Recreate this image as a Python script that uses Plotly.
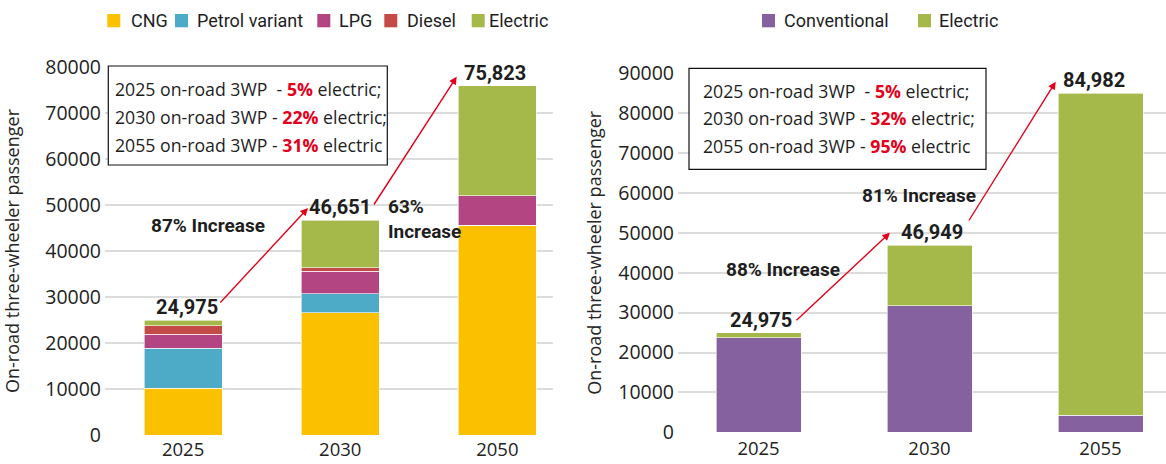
import plotly.graph_objects as go

W, H = 1166, 464

# ---- data: fuel mix scenario (left) ----
years_a = ["2025", "2030", "2050"]
cng = [10200, 26600, 45600]
petrol = [8700, 4100, 0]
lpg = [3000, 4900, 6400]
diesel = [1826, 788, 0]
electric_a = [1249, 10263, 23823]
totals_a = [24975, 46651, 75823]

# ---- data: conventional vs electric scenario (right) ----
years_b = ["2025", "2030", "2055"]
conventional = [23726, 31700, 4249]
electric_b = [1249, 15249, 80733]
totals_b = [24975, 46949, 84982]

growth_a = ["87% Increase", "63%<br>Increase"]
growth_b = ["88% Increase", "81% Increase"]
share_a = ["5%", "22%", "31%"]
share_b = ["5%", "32%", "95%"]

COLORS = {
    "CNG": "#fbc000",
    "Petrol variant": "#4eabc8",
    "LPG": "#b24582",
    "Diesel": "#c44a47",
    "Electric": "#a5b94b",
    "Conventional": "#8561a0",
}
RED = "#e3001b"
TXT = "#1e1e1e"
TICK_FONT = dict(family="Open Sans, DejaVu Sans, sans-serif", size=19.5, color="#222222")
XTICK_FONT = dict(TICK_FONT, size=18.5)
BOLD_FONT = dict(family="Roboto, Liberation Sans, sans-serif", size=20, color=TXT)
LEG_FONT = dict(family="Roboto, sans-serif", size=18, color=TXT)
BOX_FONT = dict(family="Open Sans, sans-serif", size=17.7, color=TXT)


def px(x):
    return x / W


def py(y):
    return 1 - y / H


fig = go.Figure()

for name, vals in [("CNG", cng), ("Petrol variant", petrol), ("LPG", lpg),
                   ("Diesel", diesel), ("Electric", electric_a)]:
    fig.add_trace(go.Bar(
        x=years_a, y=vals, name=name, marker_color=COLORS[name],
        marker_line=dict(color="white", width=0.6), width=0.497,
        xaxis="x", yaxis="y", showlegend=False,
    ))

for name, vals in [("Conventional", conventional), ("Electric", electric_b)]:
    fig.add_trace(go.Bar(
        x=years_b, y=vals, name=name, marker_color=COLORS[name],
        marker_line=dict(color="white", width=0.6), width=0.497,
        xaxis="x2", yaxis="y2", showlegend=False,
    ))

annotations = []
shapes = []

# legend keys: (series, square left, text left) in pixels
legend_keys = [
    ("CNG", 107.3, 129), ("Petrol variant", 175, 195), ("LPG", 317.3, 337),
    ("Diesel", 384.3, 405), ("Electric", 471.7, 487),
    ("Conventional", 762, 782), ("Electric", 918, 937),
]
for name, sq, tx in legend_keys:
    shapes.append(dict(type="rect", xref="paper", yref="paper",
                       x0=px(sq), x1=px(sq + 13), y0=py(27.3), y1=py(14),
                       line=dict(width=0), fillcolor=COLORS[name]))
    annotations.append(dict(x=px(tx), y=py(20.5), xref="paper", yref="paper", text=name,
                            showarrow=False, xanchor="left", yanchor="middle", font=LEG_FONT))

# totals above the stacked bars
for xa, ya, tots, xshift in [("x", "y", totals_a, [4, 0, -2]),
                             ("x2", "y2", totals_b, [2, 2, -7])]:
    for i, (t, xs) in enumerate(zip(tots, xshift)):
        annotations.append(dict(
            x=i, y=t, xref=xa, yref=ya, text=f"<b>{t:,}</b>", showarrow=False,
            xanchor="center", yanchor="bottom", xshift=xs, yshift=-1, font=BOLD_FONT,
        ))

# growth labels
GROW_FONT = dict(BOLD_FONT, size=19)
annotations += [
    dict(x=px(208), y=py(226), xref="paper", yref="paper", text=f"<b>{growth_a[0]}</b>",
         showarrow=False, xanchor="center", font=GROW_FONT),
    dict(x=px(386), y=py(219), xref="paper", yref="paper", text=f"<b>{growth_a[1]}</b>",
         showarrow=False, xanchor="left", align="left", font=GROW_FONT),
    dict(x=px(782.5), y=py(269), xref="paper", yref="paper", text=f"<b>{growth_b[0]}</b>",
         showarrow=False, xanchor="center", font=GROW_FONT),
    dict(x=px(919.5), y=py(195), xref="paper", yref="paper", text=f"<b>{growth_b[1]}</b>",
         showarrow=False, xanchor="center", font=GROW_FONT),
]

# growth arrows (tip, tail) in pixels
for (tx, ty), (sx, sy) in [((308, 208), (219, 304)), ((456.7, 76.7), (373, 206)),
                           ((890, 232.7), (795, 321.7)), ((1055.7, 81.7), (968, 222))]:
    annotations.append(dict(
        x=px(tx), y=py(ty), xref="paper", yref="paper", text="", showarrow=True,
        ax=sx - tx, ay=sy - ty, arrowhead=2, arrowsize=1.1, arrowwidth=1.4,
        arrowcolor=RED, standoff=0, startstandoff=0,
    ))

# electric share boxes
box_years = ["2025", "2030", "2055"]
for (x0, y0, x1, y1), shares, x_text, y_lines in [
        ((108.3, 66, 387.3, 165), share_a, 113, [89.3, 117.3, 145.3]),
        ((689, 68.3, 986, 169.3), share_b, 701, [90.7, 118.3, 146])]:
    shapes.append(dict(type="rect", xref="paper", yref="paper",
                       x0=px(x0), x1=px(x1), y0=py(y1), y1=py(y0),
                       line=dict(color="#111", width=1.2), fillcolor="white", layer="above"))
    for i, (yr, s, yl) in enumerate(zip(box_years, shares, y_lines)):
        gap = "\u00a0 - " if i == 0 else " - "
        tail = " electric;" if i < 2 else " electric"
        annotations.append(dict(
            x=px(x_text), y=py(yl), xref="paper", yref="paper", showarrow=False,
            xanchor="left", yanchor="middle", font=BOX_FONT,
            text=f"{yr} on-road 3WP{gap}<b><span style='color:{RED}'>{s}</span></b>{tail}",
        ))

axis_common = dict(showgrid=True, gridcolor="#dcdcdc", gridwidth=1.6, zeroline=False,
                   showline=False, ticks="", tickfont=TICK_FONT, automargin=False,
                   ticklabelstandoff=3)
xaxis_common = dict(type="category", showgrid=False, showline=False, ticks="",
                    tickfont=XTICK_FONT, automargin=False, ticklabelstandoff=1)
TITLE_FONT = dict(family="Open Sans, sans-serif", size=18, color="#262626")

fig.update_layout(
    width=W, height=H, margin=dict(l=0, r=0, t=0, b=0),
    paper_bgcolor="white", plot_bgcolor="white", barmode="stack",
    showlegend=False,
    xaxis=dict(xaxis_common, domain=[px(105), px(553)], anchor="y", range=[-0.497, 2.354]),
    yaxis=dict(axis_common, domain=[py(435.3), py(66.7)], anchor="x", range=[0, 80000],
               dtick=10000, tickformat="d",
               title=dict(text="On-road three-wheeler passenger", standoff=20, font=TITLE_FONT)),
    xaxis2=dict(xaxis_common, domain=[px(678), 1.0], anchor="y2", range=[-0.471, 2.383],
                ticklabelstandoff=3),
    yaxis2=dict(axis_common, domain=[py(432.3), py(73.3)], anchor="x2", range=[0, 90000],
                dtick=10000, tickformat="d",
                title=dict(text="On-road three-wheeler passenger", standoff=11, font=TITLE_FONT)),
    annotations=annotations,
    shapes=shapes,
)

fig.write_html("out.html")
